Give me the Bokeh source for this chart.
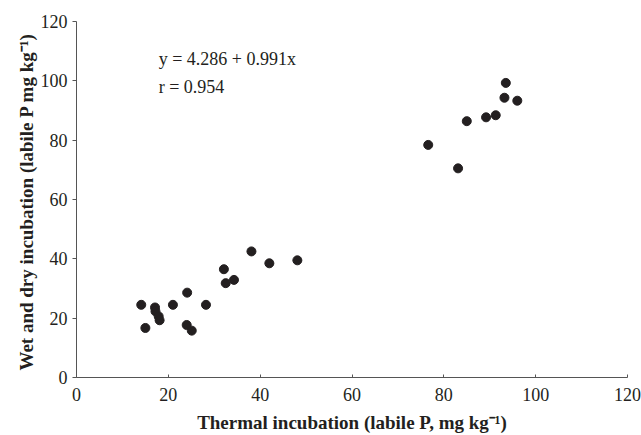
from bokeh.plotting import figure
from bokeh.models import Range1d, Label, ColumnDataSource
from bokeh.embed import file_html
from bokeh.resources import INLINE

# Data (thermal incubation vs wet & dry incubation, labile P mg/kg)
thermal = [14.1, 17.1, 17.2, 17.9, 18.1, 15.0, 21.0, 24.1, 24.0, 25.1, 28.2,
           32.1, 32.5, 34.3, 38.1, 42.0, 48.1,
           76.6, 83.1, 85.0, 89.2, 91.3, 93.2, 93.5, 96.0]
wetdry = [24.5, 23.6, 22.3, 20.6, 19.3, 16.7, 24.5, 28.6, 17.7, 15.8, 24.5,
          36.5, 31.8, 32.9, 42.5, 38.5, 39.5,
          78.4, 70.5, 86.4, 87.7, 88.4, 94.3, 99.3, 93.3]

x_ticks = [0, 20, 40, 60, 80, 100, 120]
y_ticks = [0, 20, 40, 60, 80, 100, 120]
equation = "y = 4.286 + 0.991x"
r_text = "r = 0.954"
x_title = "Thermal incubation (labile P, mg kg\u207b\u00b9)"
y_title = "Wet and dry incubation  (labile P mg kg\u207b\u00b9)"

SERIF = "Liberation Serif"

p = figure(width=641, height=435, output_backend="svg", toolbar_location=None,
           x_range=Range1d(0, 120), y_range=Range1d(0, 120),
           min_border_left=76, min_border_right=14, min_border_top=21, min_border_bottom=57)
p.outline_line_color = None
p.grid.visible = False
p.background_fill_color = "white"
p.border_fill_color = "white"

src = ColumnDataSource(dict(x=thermal, y=wetdry))
p.scatter("x", "y", source=src, size=9, fill_color="#231f20", line_color="#231f20")

for ax in (p.xaxis[0], p.yaxis[0]):
    ax.axis_line_color = "#555555"
    ax.major_tick_line_color = "#555555"
    ax.minor_tick_line_color = None
    ax.major_label_text_font = SERIF
    ax.major_label_text_font_size = "18px"
    ax.major_label_text_color = "#231f20"
    ax.axis_label_text_font = SERIF
    ax.axis_label_text_font_size = "19px"
    ax.axis_label_text_font_style = "bold"
    ax.axis_label_text_color = "#231f20"

p.xaxis.ticker = x_ticks
p.yaxis.ticker = y_ticks
p.xaxis.major_tick_in = 3
p.xaxis.major_tick_out = 0
p.xaxis.major_label_standoff = 10
p.yaxis.major_tick_in = 0
p.yaxis.major_tick_out = 4
p.yaxis.major_label_standoff = 5

p.xaxis.axis_label = x_title
p.yaxis.axis_label = y_title
p.xaxis.axis_label_standoff = 8
p.yaxis.axis_label_standoff = 1

# annotations inside the plot
p.add_layout(Label(x=17.9, y=107.2, text=equation, text_font=SERIF, text_font_size="18px",
                   text_color="#231f20", text_baseline="alphabetic"))
p.add_layout(Label(x=17.9, y=97.8, text=r_text, text_font=SERIF, text_font_size="18px",
                   text_color="#231f20", text_baseline="alphabetic"))

open("out.html", "w").write(file_html(p, INLINE))
